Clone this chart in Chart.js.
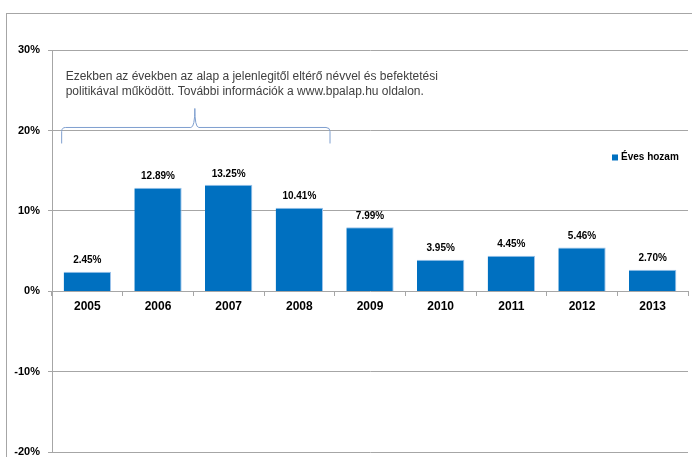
<!DOCTYPE html>
<html>
<head>
<meta charset="utf-8">
<script src="https://cdn.jsdelivr.net/npm/chart.js@4"></script>
<style>
  html,body{margin:0;padding:0;background:#fff;overflow:hidden;}
  #wrap{position:relative;width:692px;height:457px;overflow:hidden;}
  #frame{position:absolute;left:6px;top:13px;width:700px;height:500px;border:1px solid #a6a6a6;box-sizing:border-box;}
  canvas{position:absolute;left:0;top:0;}
</style>
</head>
<body>
<div id="wrap">
  <div id="frame"></div>
  <canvas id="c" width="692" height="467"></canvas>
</div>
<script>
const years = ['2005','2006','2007','2008','2009','2010','2011','2012','2013'];
const returns = [2.45, 12.89, 13.25, 10.41, 7.99, 3.95, 4.45, 5.46, 2.70];
const seriesName = 'Éves hozam';
const yTicks = [-20, -10, 0, 10, 20, 30];
const noteLines = [
  'Ezekben az években az alap a jelenlegitől eltérő névvel és befektetési',
  'politikával működött. További információk a www.bpalap.hu oldalon.'
];
const bracketFrom = 0, bracketTo = 3;

const BAR = '#0070C0';
const FONT = "'Liberation Sans', Arial, sans-serif";

const extras = {
  id: 'extras',
  afterDatasetsDraw(chart) {
    const ctx = chart.ctx;
    const meta = chart.getDatasetMeta(0);
    const y = chart.scales.y;
    const area = chart.chartArea;
    ctx.save();
    // data labels
    ctx.font = 'bold 10px ' + FONT;
    ctx.fillStyle = '#000';
    ctx.textAlign = 'center';
    ctx.textBaseline = 'middle';
    meta.data.forEach((el, i) => {
      ctx.fillText(returns[i].toFixed(2) + '%', el.x, el.y - 11);
    });
    // legend
    const lx = area.right - 76, ly = y.getPixelForValue(20) + 27;
    ctx.fillStyle = BAR;
    ctx.fillRect(lx, ly - 3, 6, 6);
    ctx.fillStyle = '#000';
    ctx.textAlign = 'left';
    ctx.font = 'bold 10px ' + FONT;
    ctx.fillText(seriesName, lx + 9, ly);
    // brace
    const b0 = meta.data[bracketFrom], b1 = meta.data[bracketTo];
    const x0 = b0.x - b0.width / 2 - 2;
    const x1 = b1.x + b1.width / 2 + 7;
    const yh = y.getPixelForValue(20) - 3;
    const yEnd = yh + 16;
    const xm = (x0 + x1) / 2 - 1;
    const yPeak = yh - 19;
    const r = 4;
    ctx.strokeStyle = '#7f9fcf';
    ctx.lineWidth = 1;
    ctx.beginPath();
    ctx.moveTo(x0, yEnd);
    ctx.lineTo(x0, yh + r);
    ctx.quadraticCurveTo(x0, yh, x0 + r, yh);
    ctx.lineTo(xm - r, yh);
    ctx.quadraticCurveTo(xm, yh, xm, yPeak);
    ctx.quadraticCurveTo(xm, yh, xm + r, yh);
    ctx.lineTo(x1 - r, yh);
    ctx.quadraticCurveTo(x1, yh, x1, yh + r);
    ctx.lineTo(x1, yEnd);
    ctx.stroke();
    // note text
    ctx.fillStyle = '#404040';
    ctx.font = '12px ' + FONT;
    ctx.textAlign = 'left';
    ctx.textBaseline = 'middle';
    const ty = y.getPixelForValue(30) + 27;
    noteLines.forEach((t, i) => ctx.fillText(t, x0 + 4, ty + i * 15));
    ctx.restore();
  }
};

new Chart(document.getElementById('c'), {
  type: 'bar',
  data: {
    labels: years,
    datasets: [{
      label: seriesName,
      data: returns,
      backgroundColor: BAR,
      borderColor: '#9cc3ea',
      borderWidth: {top: 1, left: 0, right: 1, bottom: 0},
      borderSkipped: 'bottom',
      categoryPercentage: 1,
      barPercentage: 0.67
    }]
  },
  options: {
    responsive: false,
    animation: false,
    devicePixelRatio: 1,
    layout: {padding: {left: 0, top: 50, right: 4, bottom: 0}},
    plugins: {legend: {display: false}, tooltip: {enabled: false}},
    scales: {
      x: {
        position: {y: 0},
        offset: true,
        afterFit: s => { s.height = 0; },
        grid: {drawOnChartArea: false, drawTicks: true, tickLength: 5, offset: true, color: '#a6a6a6'},
        border: {display: false},
        ticks: {color: '#000', font: {family: FONT, size: 12, weight: 'bold'}, padding: 3, maxRotation: 0}
      },
      y: {
        min: -20, max: 30,
        afterBuildTicks: s => { s.ticks = yTicks.map(v => ({value: v})); },
        afterFit: s => { s.width = 52; },
        grid: {color: '#a6a6a6', tickLength: 4},
        border: {color: '#a6a6a6'},
        ticks: {color: '#000', font: {family: FONT, size: 11, weight: 'bold'}, padding: 8, callback: v => v + '%'}
      }
    }
  },
  plugins: [extras]
});
</script>
</body>
</html>
